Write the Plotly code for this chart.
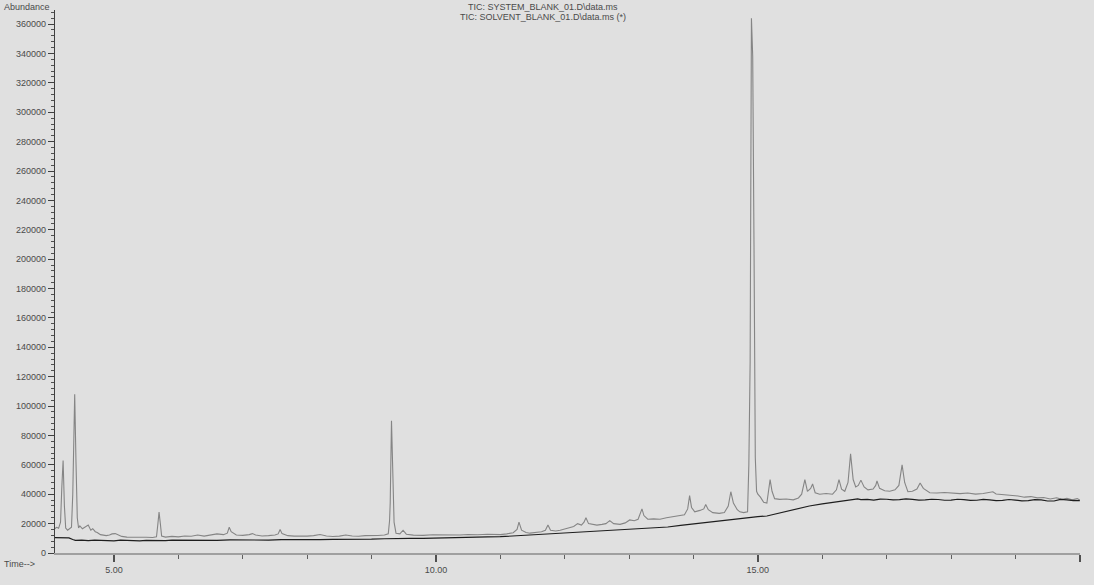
import plotly.graph_objects as go

# TIC of the system blank run (retention time in minutes, abundance)
system_time = [
    4.08, 4.11, 4.14, 4.17, 4.19, 4.21, 4.23, 4.25, 4.28, 4.31, 4.34, 4.36, 4.38, 4.39, 4.41, 4.43,
    4.45, 4.47, 4.51, 4.55, 4.60, 4.64, 4.67, 4.71, 4.74, 4.79, 4.83, 4.88, 4.93, 4.97, 5.02, 5.07,
    5.12, 5.20, 5.30, 5.40, 5.50, 5.60, 5.66, 5.68, 5.70, 5.72, 5.74, 5.80, 5.90, 6.00, 6.10, 6.20,
    6.30, 6.40, 6.50, 6.60, 6.70, 6.76, 6.79, 6.82, 6.90, 7.00, 7.10, 7.15, 7.20, 7.30, 7.40, 7.50,
    7.55, 7.58, 7.61, 7.70, 7.80, 7.90, 8.00, 8.10, 8.20, 8.30, 8.40, 8.50, 8.60, 8.70, 8.80, 8.90,
    9.00, 9.10, 9.20, 9.26, 9.28, 9.29, 9.31, 9.33, 9.35, 9.38, 9.44, 9.49, 9.54, 9.65, 9.80, 9.95,
    10.10, 10.25, 10.37, 10.50, 10.65, 10.80, 11.00, 11.10, 11.20, 11.26, 11.29, 11.33, 11.40, 11.46,
    11.55, 11.64, 11.70, 11.74, 11.78, 11.86, 11.93, 12.00, 12.08, 12.14, 12.20, 12.26, 12.30, 12.33,
    12.37, 12.42, 12.50, 12.58, 12.64, 12.70, 12.76, 12.86, 12.94, 13.01, 13.08, 13.14, 13.18, 13.20,
    13.23, 13.29, 13.38, 13.48, 13.58, 13.66, 13.76, 13.86, 13.91, 13.94, 13.97, 14.02, 14.10, 14.16,
    14.19, 14.23, 14.30, 14.40, 14.48, 14.54, 14.58, 14.62, 14.68, 14.72, 14.78, 14.84, 14.86, 14.88,
    14.90, 14.92, 14.94, 14.96, 14.98, 15.00, 15.04, 15.09, 15.14, 15.17, 15.19, 15.22, 15.26, 15.34,
    15.44, 15.55, 15.63, 15.68, 15.73, 15.77, 15.82, 15.85, 15.89, 15.96, 16.06, 16.16, 16.22, 16.26,
    16.30, 16.35, 16.40, 16.44, 16.48, 16.52, 16.56, 16.60, 16.65, 16.71, 16.79, 16.83, 16.85, 16.89,
    16.97, 17.05, 17.13, 17.19, 17.24, 17.28, 17.33, 17.40, 17.47, 17.52, 17.57, 17.67, 17.78, 17.90,
    18.02, 18.14, 18.26, 18.38, 18.50, 18.60, 18.65, 18.70, 18.82, 18.94, 19.04, 19.14, 19.24, 19.34,
    19.44, 19.54, 19.64, 19.72, 19.80, 19.88, 19.96, 20.00,
]
system_abundance = [
    16500, 17500, 16800, 21000, 45000, 63000, 32000, 17000, 15500, 16500, 17500, 40000, 90000, 108000, 62000, 24000,
    17000, 18500, 16500, 17400, 19000, 15500, 16500, 14500, 14000, 12500, 12000, 11800, 12300, 13000, 13200, 12000,
    11300, 10800, 10600, 10400, 10700, 10500, 11000, 19000, 27800, 20000, 11500, 10800, 11300, 11000, 11600, 11400,
    12200, 11500, 12400, 13000, 12500, 13500, 17500, 14500, 12200, 12000, 12500, 13200, 12300, 11600, 11800, 12200,
    13000, 16000, 13200, 11800, 11500, 11300, 11500, 11800, 12600, 11600, 11200, 11500, 12200, 11600, 11400, 11800,
    11600, 11900, 12200, 13000, 22000, 34000, 90000, 60000, 21000, 13500, 13000, 15500, 12800, 12200, 12000, 12400,
    12200, 12000, 12300, 12600, 12400, 12800, 12500, 13000, 13800, 16000, 21000, 15500, 14000, 13500,
    14000, 14500, 15500, 19000, 15500, 15000, 15500, 16500, 17500, 18000, 20000, 19000, 21000, 24000,
    20000, 19500, 19000, 19500, 20000, 22000, 20000, 19500, 20500, 22500, 22000, 23000, 27000, 30000,
    25500, 23000, 23200, 23000, 24000, 24500, 25000, 26000, 30000, 39000, 31000, 28000, 29000, 30000,
    33000, 29500, 27500, 27000, 27500, 32000, 41700, 34000, 29500, 28000, 27500, 28000, 60000, 130000,
    364000, 338000, 210000, 65000, 42000, 40000, 38000, 34500, 34000, 42000, 50000, 42000, 37000, 36500,
    36800, 36200, 37500, 40000, 50000, 42000, 44000, 47000, 41000, 40000, 40500, 40000, 43000, 50000,
    43500, 42000, 48000, 67500, 50000, 45000, 46000, 49600, 45000, 43000, 43500, 46000, 49000, 44000,
    42400, 42000, 43000, 46000, 60000, 48000, 41700, 42000, 43500, 47700, 44000, 41000, 40800, 41200,
    40600, 40400, 40800, 40100, 40500, 41000, 41700, 40200, 39800, 39200, 38800, 38000, 38400, 37500,
    37800, 36800, 37600, 36500, 37200, 36200, 37000, 36000,
]

# TIC of the solvent blank run
solvent_time = [
    4.08, 4.20, 4.30, 4.36, 4.40, 4.50, 4.60, 4.70, 4.80, 4.90, 5.00, 5.10, 5.20, 5.30, 5.40, 5.50,
    5.60, 5.70, 5.80, 5.90, 6.00, 6.20, 6.40, 6.60, 6.80, 7.00, 7.20, 7.40, 7.60, 7.80, 8.00, 8.20,
    8.40, 8.60, 8.80, 9.00, 9.20, 9.40, 9.60, 9.80, 10.00, 10.20, 10.40, 10.60, 10.80, 11.00, 11.20,
    11.40, 11.60, 11.80, 12.00, 12.20, 12.40, 12.60, 12.80, 13.00, 13.20, 13.40, 13.60, 13.80, 14.00,
    14.20, 14.40, 14.60, 14.80, 15.00, 15.14, 15.30, 15.50, 15.65, 15.80, 16.00, 16.16, 16.30, 16.40,
    16.47, 16.55, 16.60, 16.70, 16.80, 16.90, 17.00, 17.10, 17.20, 17.30, 17.40, 17.50, 17.60, 17.70,
    17.80, 17.90, 18.00, 18.10, 18.20, 18.30, 18.40, 18.50, 18.60, 18.70, 18.80, 18.90, 19.00, 19.10,
    19.20, 19.30, 19.40, 19.50, 19.60, 19.70, 19.80, 19.90, 20.00,
]
solvent_abundance = [
    10500, 10600, 10300, 9200, 8600, 8800, 8400, 8700, 8500, 8200, 8300, 8700, 8600, 8100, 8200, 8600,
    8500, 8200, 8400, 8800, 8700, 8500, 8800, 8600, 8900, 8700, 9000, 8800, 9100, 9000, 9200, 9100,
    9300, 9200, 9500, 9400, 9700, 9600, 9900, 10000, 10300, 10500, 10800, 10900, 11000, 11100, 11600,
    12200, 12900, 13300, 13900, 14300, 14700, 15100, 15500, 16000, 16500, 16900, 17700, 18800, 19800,
    21000, 22200, 23300, 24300, 24800, 25200, 26800, 28800, 30500, 32000, 33400, 34500, 35400, 36000,
    36300, 36800, 36300, 36500, 36000, 36700, 36600, 36100, 36300, 36900, 36500, 36000, 36100, 36600,
    36400, 35900, 36000, 36600, 36300, 35800, 35900, 36500, 36200, 35700, 35800, 36400, 36000, 35500,
    35600, 36300, 36100, 35400, 35400, 36500, 36200, 35600, 35700,
]

# Axis ticks
x_ticks = [5, 10, 15, 20]
x_tick_text = ["5.00", "10.00", "15.00", ""]
y_ticks = list(range(0, 360001, 20000))
y_tick_text = [str(v) for v in y_ticks]

bg = "#e0e0e0"
text_color = "#4a4a4a"
font_family = "Liberation Sans, Arial, sans-serif"

fig = go.Figure()
fig.add_trace(go.Scatter(
    x=system_time, y=system_abundance, mode="lines",
    line=dict(color="#858585", width=1.1), name="SYSTEM_BLANK_01",
))
fig.add_trace(go.Scatter(
    x=solvent_time, y=solvent_abundance, mode="lines",
    line=dict(color="#1e1e1e", width=1.2), name="SOLVENT_BLANK_01",
))

L, R, T, B = 55, 14, 10, 17
W, H = 1094, 585
pw, ph = W - L - R, H - T - B


def px_x(px):
    return (px - L) / pw


def px_y(py):
    return (H - B - py) / ph


fig.update_layout(
    width=W, height=H,
    margin=dict(l=L, r=R, t=T, b=B),
    paper_bgcolor=bg, plot_bgcolor=bg,
    showlegend=False,
    font=dict(family=font_family, size=9, color=text_color),
    xaxis=dict(
        range=[4.084, 20.003], showgrid=False, zeroline=False,
        showline=True, linecolor="#a0a0a0", linewidth=1.5,
        tickmode="array", tickvals=x_ticks, ticktext=x_tick_text,
        ticks="outside", ticklen=7, tickwidth=1.6, tickcolor="#505050",
        minor=dict(dtick=1, tick0=0, ticks="outside", ticklen=4, tickwidth=1, tickcolor="#606060"),
        tickfont=dict(size=9, color=text_color),
    ),
    yaxis=dict(
        range=[0, 369600], showgrid=False, zeroline=False,
        showline=True, linecolor="#404040", linewidth=1.2,
        tickmode="array", tickvals=y_ticks, ticktext=y_tick_text,
        ticks="outside", ticklen=6, tickwidth=1.2, tickcolor="#404040",
        minor=dict(dtick=4000, tick0=0, ticks="outside", ticklen=3, tickwidth=1, tickcolor="#505050"),
        tickfont=dict(size=9, color=text_color),
    ),
)

annotations = [
    dict(text="Abundance", x=px_x(2), y=px_y(7), xanchor="left", yanchor="middle"),
    dict(text="Time-->", x=px_x(2), y=px_y(579), xanchor="left", yanchor="middle"),
    dict(text="TIC: SYSTEM_BLANK_01.D\\data.ms", x=px_x(543), y=px_y(7), xanchor="center", yanchor="middle"),
    dict(text="TIC: SOLVENT_BLANK_01.D\\data.ms (*)", x=px_x(543), y=px_y(17), xanchor="center", yanchor="middle"),
]
for a in annotations:
    fig.add_annotation(xref="paper", yref="paper", showarrow=False,
                       font=dict(size=9, color=text_color, family=font_family), **a)

fig.write_html("out.html")
